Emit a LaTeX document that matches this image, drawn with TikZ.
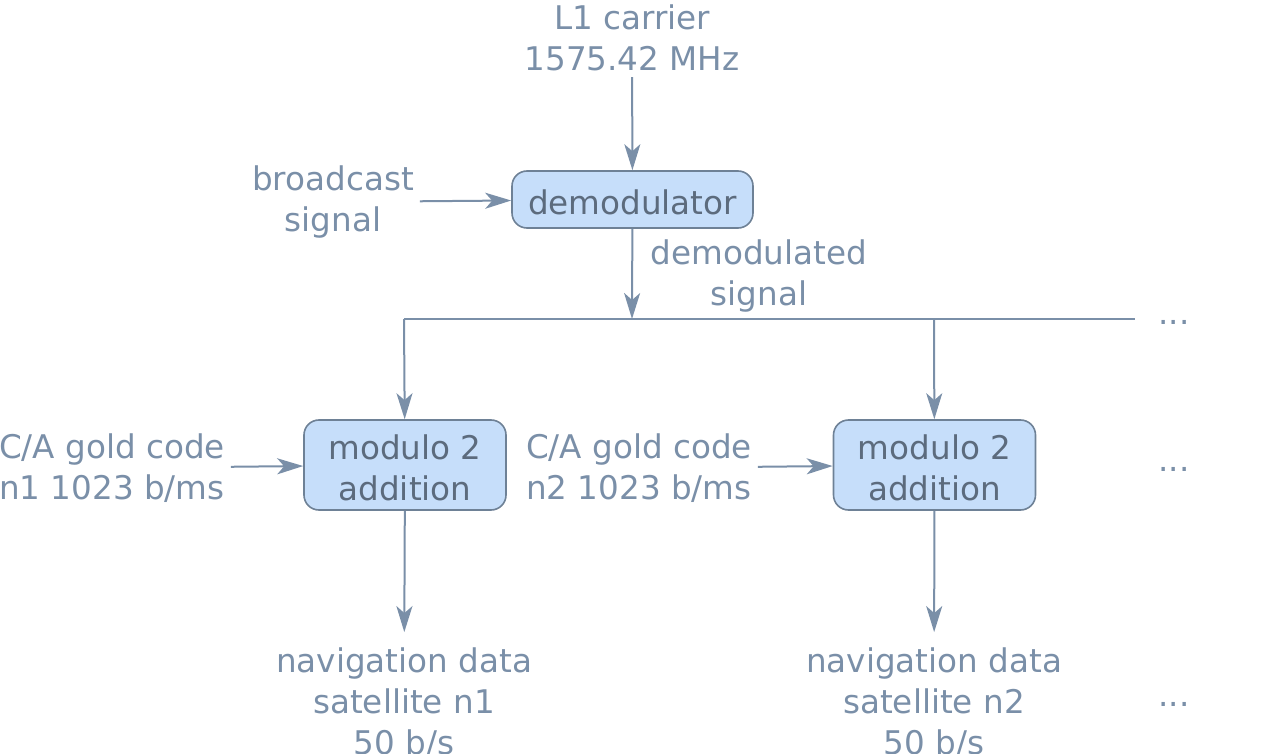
\documentclass[tikz,border=0pt]{standalone}
\usepackage{fontspec}
\setmainfont{DejaVu Sans}
\usetikzlibrary{arrows.meta}
\definecolor{slate}{RGB}{122,143,168}
\definecolor{boxfill}{RGB}{198,222,250}
\definecolor{boxline}{RGB}{110,129,150}
\definecolor{boxtext}{RGB}{92,107,125}
\newcommand\boxtxt[1]{\raisebox{-1.5pt}[\height][\depth]{#1}}
\tikzset{
 lbl/.style={text=slate, align=center, inner sep=0pt, outer sep=3pt},
 blk/.style={draw=boxline, fill=boxfill, text=boxtext, align=center, rounded corners=7.5pt, line width=0.8pt, inner sep=0pt},
 flow/.style={draw=slate, line width=1pt, -{Stealth[length=13pt,width=8pt,inset=3.5pt]}},
 bus/.style={draw=slate, line width=1pt}
}
\begin{document}
\begin{tikzpicture}[x=0.5pt,y=-0.5pt,font=\fontsize{16.3}{20.5}\selectfont]
 \useasboundingbox (0,0) rectangle (1280,754);
 \clip (0,0) rectangle (1280,754);
 % blocks
 \node[blk,minimum width=120.5pt,minimum height=28.5pt] (demod) at (632.5,199.5) {\boxtxt{demodulator}};
 \node[blk,minimum width=101pt,minimum height=45pt] (add1) at (405,465) {\boxtxt{modulo 2}\\\boxtxt{addition}};
 \node[blk,minimum width=101pt,minimum height=45pt] (add2) at (934.5,465) {\boxtxt{modulo 2}\\\boxtxt{addition}};
 % labels
 \node[lbl] (carrier) at (632,38) {L1 carrier\\1575.42 MHz};
 \node[lbl] (bcast) at (333,202) {broadcast\\signal};
 \node[lbl] (demsig) at (759,276) {demodulated\\signal};
 \node[lbl] (code1) at (112,468) {C/A gold code\\n1 1023 b/ms};
 \node[lbl] (code2) at (639,468) {C/A gold code\\n2 1023 b/ms};
 \node[lbl] (nav1) at (404,703) {navigation data\\satellite n1\\50 b/s};
 \node[lbl] (nav2) at (934,703) {navigation data\\satellite n2\\50 b/s};
 \node[lbl,anchor=base] (dots1) at (1174,325) {...};
 \node[lbl,anchor=base] (dots2) at (1174,471) {...};
 \node[lbl,anchor=base] (dots3) at (1174,706) {...};
 % bus
 \coordinate (split) at (632,319);
 \coordinate (left) at (404,319);
 \coordinate (tap2) at (934,319);
 \coordinate (right) at (1135,319);
 \draw[bus] (left) -- (right);
 % arrows
 \draw[flow] (carrier) -- (demod);
 \draw[flow] (bcast) -- (demod);
 \draw[flow] (demod) -- (split);
 \draw[flow] (left) -- (add1);
 \draw[flow] (tap2) -- (add2);
 \draw[flow] (code1) -- (add1);
 \draw[flow] (code2) -- (add2);
 \draw[flow,shorten >=5pt] (add1) -- (nav1);
 \draw[flow,shorten >=5pt] (add2) -- (nav2);
\end{tikzpicture}
\end{document}
